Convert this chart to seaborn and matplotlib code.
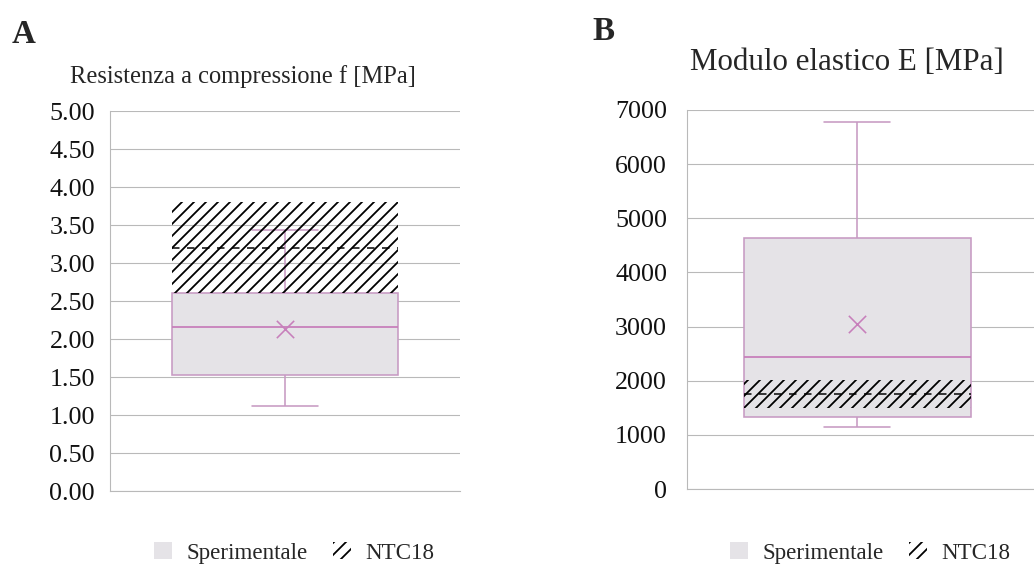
import matplotlib
matplotlib.use("Agg")
import matplotlib.pyplot as plt
from matplotlib.patches import Patch
import seaborn as sns

sns.set_theme(style="white")
plt.rcParams["font.family"] = ["Liberation Serif", "DejaVu Serif"]
plt.rcParams["hatch.linewidth"] = 1.8

# five-number summaries (whisker low, Q1, median, Q3, whisker high)
F_SUMMARY = [1.12, 1.53, 2.16, 2.60, 3.43]
F_MEAN = 2.13
F_NTC = [2.60, 3.80]          # NTC18 band
F_NTC_MID = 3.20
F_TICKS = [0.0, 0.5, 1.0, 1.5, 2.0, 2.5, 3.0, 3.5, 4.0, 4.5, 5.0]

E_SUMMARY = [1150, 1330, 2440, 4640, 6780]
E_MEAN = 3050
E_NTC = [1500, 2010]
E_NTC_MID = 1750
E_TICKS = [0, 1000, 2000, 3000, 4000, 5000, 6000, 7000]

LEGEND_LABELS = ["Sperimentale", "NTC18"]

BOX_FACE = "#e5e3e7"
PINK = "#c79ac3"
MEAN_COL = "#c77fbb"
GRID = "#b9b9b9"


def panel(ax, summary, mean, ntc, ntc_mid, ticks, fmt, width, xlim, pad):
    sns.boxplot(y=summary, ax=ax, width=width, whis=(0, 100), color=BOX_FACE, saturation=1,
                linecolor=PINK, linewidth=1.6, capwidths=width * 0.29,
                medianprops=dict(color=MEAN_COL, linewidth=1.8), zorder=2)
    sns.scatterplot(x=[0], y=[mean], marker="x", s=300, color=MEAN_COL, linewidth=1.6, ax=ax, zorder=4)
    # NTC18 band drawn as hatched bar on top of the box
    ax.bar(0, ntc[1] - ntc[0], bottom=ntc[0], width=width, facecolor="none", edgecolor="black",
           linewidth=0, hatch="//", zorder=3)
    ax.hlines(ntc_mid, -width / 2, width / 2, colors="black", linestyles=(0, (5, 5)), linewidth=1.5, zorder=3)
    ax.set_xlim(*xlim)
    ax.set_ylim(ticks[0], ticks[-1])
    ax.set_yticks(ticks)
    ax.set_yticklabels([fmt.format(t) for t in ticks], fontsize=26)
    ax.set_xticks([])
    ax.set_xlabel("")
    ax.set_ylabel("")
    ax.tick_params(axis="y", length=0, pad=pad, colors="#111111")
    ax.yaxis.grid(True, color=GRID, linewidth=1.1)
    ax.set_axisbelow(True)
    for s in ["top", "right"]:
        ax.spines[s].set_visible(False)
    for s in ["left", "bottom"]:
        ax.spines[s].set_color(GRID)
        ax.spines[s].set_linewidth(1.1)
    handles = [Patch(facecolor=BOX_FACE, edgecolor="none"),
               Patch(facecolor="none", edgecolor="black", linewidth=0, hatch="//")]
    return handles


fig = plt.figure(figsize=(1034 / 72, 564 / 72), dpi=72)
ax_a = fig.add_axes([110 / 1034, 1 - 491 / 564, 350 / 1034, 380 / 564])
ax_b = fig.add_axes([687 / 1034, 1 - 489 / 564, 350 / 1034, 379 / 564])

h = panel(ax_a, F_SUMMARY, F_MEAN, F_NTC, F_NTC_MID, F_TICKS, "{:.2f}", 0.643, (-0.5, 0.5), 15)
panel(ax_b, E_SUMMARY, E_MEAN, E_NTC, E_NTC_MID, E_TICKS, "{:.0f}", 0.65, (-0.487, 0.513), 20)

fig.text(12 / 1034, 1 - 43 / 564, "A", fontsize=33, fontweight="bold", va="baseline")
fig.text(592 / 1034, 1 - 40 / 564, "B", fontsize=33, fontweight="bold", va="baseline")
fig.text(70 / 1034, 1 - 77 / 564, "Resistenza a compressione f [MPa]", fontsize=24.5, va="center")
fig.text(690 / 1034, 1 - 62 / 564, "Modulo elastico E [MPa]", fontsize=31, va="center")

for cx in [294, 870]:
    fig.legend(h, LEGEND_LABELS, loc="center", bbox_to_anchor=(cx / 1034, 1 - 553 / 564), ncol=2,
               frameon=False, fontsize=23, handlelength=0.8, handleheight=0.75,
               handletextpad=0.6, columnspacing=1.1)

fig.savefig("out.png", dpi=72)
